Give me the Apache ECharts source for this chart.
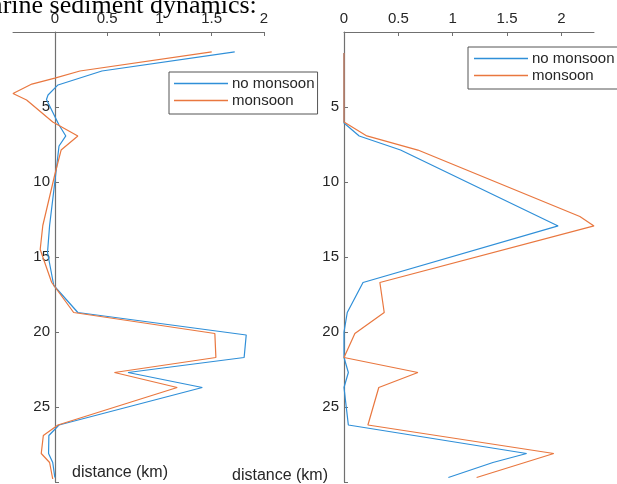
<!DOCTYPE html>
<html>
<head>
<meta charset="utf-8">
<script src="https://cdn.jsdelivr.net/npm/echarts@6/dist/echarts.min.js"></script>
<style>html,body{margin:0;padding:0;background:#fff}#c{width:617px;height:484px}</style>
</head>
<body>
<div id="c"></div>
<script>
// Left panel
var leftNoDepth = [1.33, 2.6, 3.53, 4.2, 4.5, 6.2, 6.93, 7.6, 10, 12.9, 14.7, 16.9, 18.7, 20.2, 21.7, 22.7, 23.7, 26.2, 26.9, 28.1, 28.7, 29.7];
var leftNoDist  = [1.72, 0.45, 0.03, -0.065, -0.08, 0.04, 0.105, 0.04, 0, -0.05, -0.07, -0.01, 0.22, 1.83, 1.81, 0.70, 1.41, 0.04, -0.057, -0.06, -0.02, 0];
var leftMoDepth = [1.33, 2.6, 3.07, 3.47, 4.1, 4.53, 6.0, 6.93, 7.87, 9.5, 12.9, 14.5, 16.7, 18.7, 20.1, 21.7, 22.7, 23.7, 26.2, 26.9, 28.1, 28.7, 29.8];
var leftMoDist  = [1.5, 0.24, 0, -0.22, -0.40, -0.27, -0.02, 0.22, 0.06, 0, -0.115, -0.14, -0.03, 0.18, 1.53, 1.54, 0.57, 1.17, 0.03, -0.11, -0.13, -0.05, -0.02];
// Right panel
var rightNoDepth = [1.4, 6.07, 6.93, 7.87, 12.93, 16.7, 18.7, 20, 21.7, 22.7, 23.7, 26.2, 28.1, 28.7, 29.7];
var rightNoDist  = [0, 0, 0.14, 0.52, 1.97, 0.175, 0.03, 0, 0, 0.04, 0, 0.04, 1.68, 1.37, 0.96];
var rightMoDepth = [1.4, 6.0, 6.93, 7.87, 12.3, 12.93, 16.7, 18.7, 20.1, 21.7, 22.7, 23.7, 26.2, 28.1, 29.7];
var rightMoDist  = [0, 0, 0.21, 0.68, 2.17, 2.30, 0.33, 0.37, 0.10, 0, 0.68, 0.32, 0.22, 1.93, 1.22];

var xTicks = [0, 0.5, 1, 1.5, 2];
var yLabels = [5, 10, 15, 20, 25];
var yTicks = [5, 10, 15, 20, 25, 30];
var seriesNames = ['no monsoon', 'monsoon'];
var titleText = 'Marine sediment dynamics:';
var xLabelText = 'distance (km)';

var BLUE = '#2f8fd8', ORANGE = '#e9773f', AX = '#707070', TX = '#262626';
var FONT = 'Liberation Sans, Arial, sans-serif';

function pairs(xs, ys) { return xs.map(function (x, i) { return [x, ys[i]]; }); }

function xAxisCfg(idx, min, max) {
  return {
    gridIndex: idx, type: 'value', position: 'top', min: min, max: max,
    axisLine: { show: true, onZero: false, lineStyle: { color: AX, width: 1 } },
    axisTick: { show: true, inside: true, length: 4, customValues: xTicks, lineStyle: { color: AX } },
    axisLabel: { customValues: xTicks, color: TX, fontSize: 15, fontFamily: FONT, margin: 6 },
    splitLine: { show: false }
  };
}
function yAxisCfg(idx, offset) {
  return {
    gridIndex: idx, type: 'value', inverse: true, min: 0, max: 30,
    position: 'left', offset: offset,
    axisLine: { show: true, onZero: false, lineStyle: { color: AX, width: 1.2 } },
    axisTick: { show: true, inside: true, length: 4, customValues: yTicks, lineStyle: { color: AX } },
    axisLabel: { customValues: yLabels, color: TX, fontSize: 15, fontFamily: FONT, margin: 5 },
    splitLine: { show: false }
  };
}
function lineSeries(name, xi, data, color) {
  return {
    name: name, type: 'line', xAxisIndex: xi, yAxisIndex: xi, data: data,
    symbol: 'none', clip: false, animation: false,
    lineStyle: { color: color, width: 1.2 }, itemStyle: { color: color }
  };
}
function legendCfg(left, top, padding) {
  return {
    data: seriesNames, orient: 'vertical', left: left, top: top,
    icon: 'rect', itemWidth: 54, itemHeight: 1.5, itemGap: 2, selectedMode: false,
    borderColor: '#555', borderWidth: 1, padding: padding, backgroundColor: '#fff',
    textStyle: { fontSize: 15, fontFamily: FONT, color: TX, lineHeight: 14, padding: [0, 0, 0, -1] }
  };
}

var chart = echarts.init(document.getElementById('c'), null, { renderer: 'canvas' });
chart.setOption({
  animation: false,
  backgroundColor: '#fff',
  grid: [
    { left: 13, top: 32, width: 251, height: 450, containLabel: false, outerBoundsMode: 'none' },
    { left: 344, top: 32, width: 250, height: 450, containLabel: false, outerBoundsMode: 'none' }
  ],
  xAxis: [xAxisCfg(0, -0.4, 2), xAxisCfg(1, 0, 2.3)],
  yAxis: [yAxisCfg(0, -42), yAxisCfg(1, 0)],
  legend: [legendCfg(169, 72, [4, 3, 6, 5]), legendCfg(468, 47, [4, 4, 6, 6])],
  series: [
    lineSeries(seriesNames[0], 0, pairs(leftNoDist, leftNoDepth), BLUE),
    lineSeries(seriesNames[1], 0, pairs(leftMoDist, leftMoDepth), ORANGE),
    lineSeries(seriesNames[0], 1, pairs(rightNoDist, rightNoDepth), BLUE),
    lineSeries(seriesNames[1], 1, pairs(rightMoDist, rightMoDepth), ORANGE)
  ],
  graphic: [
    { type: 'text', left: -32, top: -7, style: { text: titleText, fill: '#000', font: '26px "Liberation Serif", "Times New Roman", serif' } },
    { type: 'text', left: 72, top: 465, style: { text: xLabelText, fill: TX, font: '16px ' + FONT } },
    { type: 'text', left: 232, top: 468, style: { text: xLabelText, fill: TX, font: '16px ' + FONT } }
  ]
});
</script>
</body>
</html>
